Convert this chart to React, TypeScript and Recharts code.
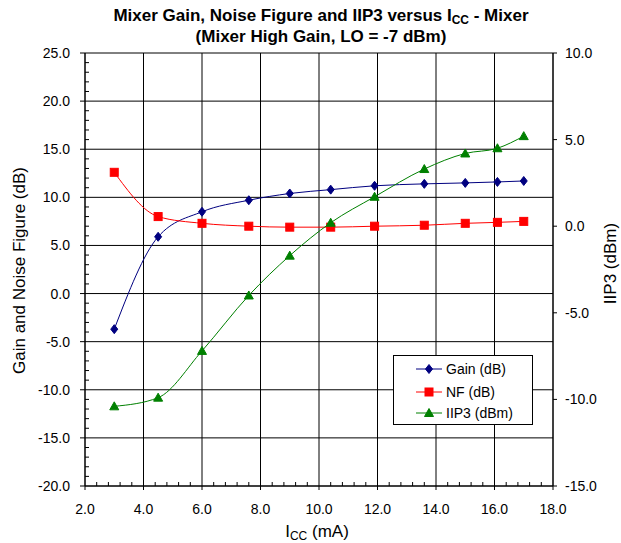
import React from "react"
import {
  LineChart,
  Line,
  XAxis,
  YAxis,
  CartesianGrid,
  Legend,
  Label,
} from "recharts"

// I_CC (mA) sweep points
const icc = [3.0, 4.5, 6.0, 7.6, 9.0, 10.4, 11.9, 13.6, 15.0, 16.1, 17.0]
const gainDb = [-3.7, 5.9, 8.5, 9.7, 10.4, 10.8, 11.2, 11.4, 11.5, 11.6, 11.7]
const nfDb = [12.6, 8.0, 7.3, 7.0, 6.9, 6.9, 7.0, 7.1, 7.3, 7.4, 7.5]
const iip3Dbm = [-10.4, -9.9, -7.2, -4.0, -1.7, 0.2, 1.7, 3.3, 4.2, 4.5, 5.2]

// axis ticks
const xMajor = [2, 4, 6, 8, 10, 12, 14, 16, 18]
const xTicks = [
  2, 2.4, 2.8, 3.2, 3.6, 4, 4.4, 4.8, 5.2, 5.6, 6, 6.4, 6.8, 7.2, 7.6, 8, 8.4,
  8.8, 9.2, 9.6, 10, 10.4, 10.8, 11.2, 11.6, 12, 12.4, 12.8, 13.2, 13.6, 14,
  14.4, 14.8, 15.2, 15.6, 16, 16.4, 16.8, 17.2, 17.6, 18,
]
const leftMajor = [-20, -15, -10, -5, 0, 5, 10, 15, 20, 25]
const leftTicks = [
  -20, -19, -18, -17, -16, -15, -14, -13, -12, -11, -10, -9, -8, -7, -6, -5,
  -4, -3, -2, -1, 0, 1, 2, 3, 4, 5, 6, 7, 8, 9, 10, 11, 12, 13, 14, 15, 16, 17,
  18, 19, 20, 21, 22, 23, 24, 25,
]
const rightTicks = [-15, -10, -5, 0, 5, 10]

const data = icc.map((x, i) => ({
  icc: x,
  gain: gainDb[i],
  nf: nfDb[i],
  iip3: iip3Dbm[i],
}))

const FONT = '"Liberation Sans", Arial, Helvetica, sans-serif'
const NAVY = "#000080"
const RED = "#ff0000"
const GREEN = "#008000"
const TICK_FS = 14
const TITLE_FS = 17

const isIn = (arr: number[], v: number) => arr.some((a) => Math.abs(a - v) < 1e-6)

function XTick(props: any) {
  const { x, y, payload } = props
  const v = payload.value
  const axisY = y - 4 - 9
  if (isIn(xMajor, v)) {
    return (
      <g>
        <line x1={x} x2={x} y1={axisY} y2={axisY + 4} stroke="#000" />
        <text x={x} y={axisY + 28} textAnchor="middle" fontSize={TICK_FS} fill="#000">
          {v.toFixed(1)}
        </text>
      </g>
    )
  }
  return <line x1={x} x2={x} y1={axisY} y2={axisY - 4} stroke="#000" />
}

function LeftTick(props: any) {
  const { x, y, payload } = props
  const v = payload.value
  const axisX = x + 5 + 10
  if (isIn(leftMajor, v)) {
    return (
      <g>
        <line x1={axisX - 5} x2={axisX} y1={y} y2={y} stroke="#000" />
        <text x={axisX - 15} y={y + 5} textAnchor="end" fontSize={TICK_FS} fill="#000">
          {v.toFixed(1)}
        </text>
      </g>
    )
  }
  return <line x1={axisX} x2={axisX + 4} y1={y} y2={y} stroke="#000" />
}

function Diamond({ cx, cy, fill }: any) {
  return (
    <path
      d={`M${cx},${cy - 4.5}L${cx + 3.5},${cy}L${cx},${cy + 4.5}L${cx - 3.5},${cy}Z`}
      fill={fill}
      stroke={fill}
    />
  )
}

function Square({ cx, cy, fill }: any) {
  return <rect x={cx - 4} y={cy - 4} width={8} height={8} fill={fill} stroke={fill} />
}

function Triangle({ cx, cy, fill }: any) {
  return (
    <path
      d={`M${cx},${cy - 4.5}L${cx + 4.5},${cy + 3.5}L${cx - 4.5},${cy + 3.5}Z`}
      fill={fill}
      stroke={fill}
    />
  )
}

const series = [
  { key: "gain", name: "Gain (dB)", color: NAVY, Marker: Diamond, axis: "left" },
  { key: "nf", name: "NF (dB)", color: RED, Marker: Square, axis: "left" },
  { key: "iip3", name: "IIP3 (dBm)", color: GREEN, Marker: Triangle, axis: "right" },
]

function LegendBox() {
  const rows = [13, 36, 57]
  return (
    <div
      style={{
        width: 140,
        height: 70,
        border: "1px solid #000",
        background: "#fff",
        boxSizing: "border-box",
      }}
    >
      <svg width={138} height={68}>
        {series.map((s, i) => (
          <g key={s.key}>
            <line x1={22} x2={48} y1={rows[i]} y2={rows[i]} stroke={s.color} />
            <s.Marker cx={35} cy={rows[i]} fill={s.color} />
            <text x={52} y={rows[i] + 5} fontSize={TICK_FS} fill="#000" fontFamily={FONT}>
              {s.name}
            </text>
          </g>
        ))}
      </svg>
    </div>
  )
}

export default function App() {
  return (
    <div
      style={{
        position: "absolute",
        left: 0,
        top: 0,
        width: 621,
        height: 543,
        background: "#fff",
        fontFamily: FONT,
      }}
    >
      <LineChart
        width={621}
        height={543}
        data={data}
        margin={{ top: 53, right: 18, bottom: 17, left: 25 }}
      >
        <CartesianGrid
          yAxisId="left"
          stroke="#000"
          horizontalValues={leftMajor}
          verticalValues={xMajor}
        />
        <XAxis
          dataKey="icc"
          type="number"
          domain={[2, 18]}
          ticks={xTicks}
          interval={0}
          tickSize={4}
          tickMargin={9}
          height={40}
          axisLine={{ stroke: "#000" }}
          tickLine={false}
          tick={(p: any) => <XTick {...p} />}
        >
          <Label
            content={(p: any) => {
              const vb = p.viewBox || { x: 85, y: 486, width: 468 }
              return (
                <text
                  x={vb.x + vb.width / 2 - 2}
                  y={vb.y + 51}
                  textAnchor="middle"
                  fontSize={TITLE_FS}
                  fill="#000"
                >
                  <tspan>I</tspan>
                  <tspan fontSize={12} dy={3}>CC</tspan>
                  <tspan dy={-3}> (mA)</tspan>
                </text>
              )
            }}
          />
        </XAxis>
        <YAxis
          yAxisId="left"
          type="number"
          domain={[-20, 25]}
          ticks={leftTicks}
          interval={0}
          width={60}
          tickSize={5}
          tickMargin={10}
          axisLine={{ stroke: "#000" }}
          tickLine={false}
          tick={(p: any) => <LeftTick {...p} />}
        >
          <Label
            content={(p: any) => {
              const vb = p.viewBox || { y: 53, height: 433 }
              const cy = vb.y + vb.height / 2 + 1
              return (
                <text
                  x={19}
                  y={cy}
                  transform={`rotate(-90 19 ${cy})`}
                  textAnchor="middle"
                  dominantBaseline="central"
                  fontSize={TITLE_FS}
                  fill="#000"
                >
                  Gain and Noise Figure (dB)
                </text>
              )
            }}
          />
        </YAxis>
        <YAxis
          yAxisId="right"
          orientation="right"
          type="number"
          domain={[-15, 10]}
          ticks={rightTicks}
          interval={0}
          width={50}
          tickSize={4}
          tickMargin={8}
          axisLine={{ stroke: "#000" }}
          tickLine={{ stroke: "#000" }}
          tick={{ fill: "#000", fontSize: TICK_FS }}
          tickFormatter={(v: number) => v.toFixed(1)}
        >
          <Label
            content={(p: any) => {
              const vb = p.viewBox || { y: 53, height: 433 }
              const cy = vb.y + vb.height / 2 - 6
              return (
                <text
                  x={610}
                  y={cy}
                  transform={`rotate(-90 610 ${cy})`}
                  textAnchor="middle"
                  dominantBaseline="central"
                  fontSize={TITLE_FS}
                  fill="#000"
                >
                  IIP3 (dBm)
                </text>
              )
            }}
          />
        </YAxis>
        <Legend
          layout="vertical"
          align="center"
          verticalAlign="middle"
          wrapperStyle={{ left: 393, top: 355, width: 140, height: 70 }}
          content={() => <LegendBox />}
        />
        {series.map((s) => (
          <Line
            key={s.key}
            yAxisId={s.axis}
            dataKey={s.key}
            name={s.name}
            type="monotone"
            stroke={s.color}
            strokeWidth={1}
            isAnimationActive={false}
            activeDot={false}
            dot={(p: any) => (
              <s.Marker key={`${s.key}-${p.index}`} cx={p.cx} cy={p.cy} fill={s.color} />
            )}
          />
        ))}
      </LineChart>
      <div
        style={{
          position: "absolute",
          left: 21,
          top: 5,
          width: 600,
          textAlign: "center",
          fontWeight: "bold",
          fontSize: TITLE_FS,
          lineHeight: "21px",
          color: "#000",
        }}
      >
        <div>
          Mixer Gain, Noise Figure and IIP3 versus I
          <sub style={{ fontSize: 12, verticalAlign: "-3px", lineHeight: 0 }}>CC</sub> - Mixer
        </div>
        <div>(Mixer High Gain, LO = -7 dBm)</div>
      </div>
    </div>
  )
}
